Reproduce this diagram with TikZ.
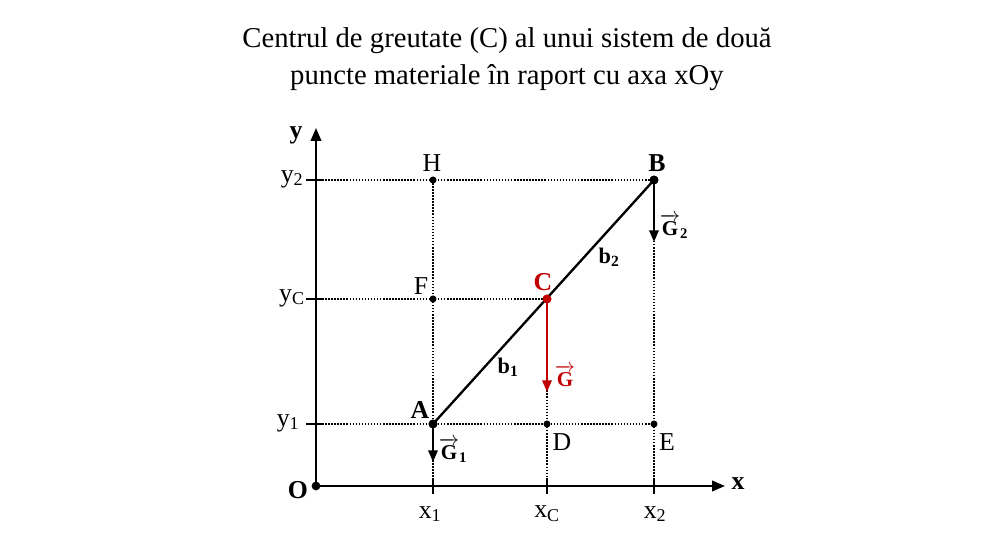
\documentclass[tikz,border=0pt]{standalone}
\usepackage{amsmath}
\usepackage{fontspec}
\setmainfont{Liberation Serif}
\usetikzlibrary{arrows.meta, positioning}
\definecolor{cred}{RGB}{192,0,0}

\begin{document}
\begin{tikzpicture}[
    x=0.03cm, y=0.03cm, >=Latex,
    % --- STYLES ---
    axis/.style={->, line width=1.6pt, >={Triangle[length=11pt, width=9pt]}},
    tick/.style={line width=1.6pt},
    guide/.style={line width=1.3pt, dash pattern=on 1.3pt off 1.3pt},
    rod/.style={line width=2pt},
    vec/.style={->, line width=2pt, >={Triangle[length=10pt, width=8pt]}},
    pt/.style={circle, fill, inner sep=0pt, minimum size=7.5pt},
    spt/.style={circle, fill, inner sep=0pt, minimum size=6pt},
    lbl/.style={font=\fontsize{22}{24}\selectfont},
    blbl/.style={font=\fontsize{22}{24}\selectfont\bfseries},
    slbl/.style={font=\fontsize{19}{22}\selectfont\bfseries},
    glbl/.style={font=\fontsize{18}{20}\selectfont}
]
\useasboundingbox (0,0) rectangle (1000,540);

% --- TITLE ---
\node[align=center, font=\fontsize{24.5}{31}\selectfont] (title) at (507,481)
    {Centrul de greutate (C) al unui sistem de două\\puncte materiale în raport cu axa xOy};

% --- 1. AXES ---
\node[pt] (O) at (316,54) {};
\coordinate (Yend) at (316,412);
\coordinate (Xend) at (725,54);
\draw[axis] (O.center) -- (Yend);
\draw[axis] (O.center) -- (Xend);
\node[blbl] (lO) at (298,50) {O};
\node[blbl] (ly) at (296,405) {y};
\node[blbl] (lx) at (738,56) {x};

% feet on the axes
\coordinate (X1) at (433,54);
\coordinate (XC) at (547,54);
\coordinate (X2) at (654,54);
\coordinate (Y1) at (316,116);
\coordinate (YC) at (316,241);
\coordinate (Y2) at (316,360);

\foreach \p in {X1, XC, X2} {
    \draw[tick] (\p) ++(0,8) -- ++(0,-16);
}
\foreach \p in {Y1, YC, Y2} {
    \draw[tick] (\p) ++(-10,0) -- ++(18,0);
}

\node[lbl] (lx1) at (430,26) {x\textsubscript{1}};
\node[lbl] (lxC) at (547,26) {x\textsubscript{C}};
\node[lbl] (lx2) at (655,26) {x\textsubscript{2}};
\node[lbl] (ly1) at (288,117) {y\textsubscript{1}};
\node[lbl] (lyC) at (292,242) {y\textsubscript{C}};
\node[lbl] (ly2) at (292,361) {y\textsubscript{2}};

% --- 2. POINTS ---
\node[pt] (A) at (433,116) {};
\node[pt] (B) at (654,360) {};
\node[pt, cred] (C) at (547,241) {};
\node[spt] (H) at (433,360) {};
\node[spt] (F) at (433,241) {};
\node[spt] (D) at (547,116) {};
\node[spt] (E) at (654,116) {};

% --- 3. DOTTED GUIDES ---
\draw[guide] (Y2) -- (B.center);
\draw[guide] (YC) -- (C.center);
\draw[guide] (Y1) -- (E.center);
\draw[guide] (H.center) -- (X1);
\draw[guide] (C.center) -- (XC);
\draw[guide] (B.center) -- (X2);

% --- 4. BAR AND WEIGHTS ---
\draw[rod] (A.center) -- (B.center);
\node[pt] at (A) {};
\node[pt] at (B) {};
\node[pt, cred] at (C) {};

\coordinate (G1end) at (433,78);
\coordinate (G2end) at (654,298);
\coordinate (Gend) at (547,148);
\draw[vec] (A.center) -- (G1end);
\draw[vec] (B.center) -- (G2end);
\draw[vec, cred] (C.center) -- (Gend);

% --- LABELS ---
\node[lbl] (lH) at (432,377) {H};
\node[lbl] (lF) at (421,254) {F};
\node[lbl] (lD) at (562,98) {D};
\node[lbl] (lE) at (667,98) {E};
\node[blbl] (lA) at (420,130) {A};
\node[blbl] (lB) at (657,377) {B};
\node[blbl, text=cred] (lC) at (543,258) {C};
\node[slbl] (lb2) at (609,283) {b\textsubscript{2}};
\node[slbl] (lb1) at (508,173) {b\textsubscript{1}};
\node[glbl] (lG1) at (453,90) {$\overrightarrow{\textbf{G}}_{\textbf{1}}$};
\node[glbl] (lG2) at (674,314) {$\overrightarrow{\textbf{G}}_{\textbf{2}}$};
\node[glbl, text=cred] (lG) at (565,164) {$\overrightarrow{\textbf{G}}$};

\end{tikzpicture}
\end{document}
